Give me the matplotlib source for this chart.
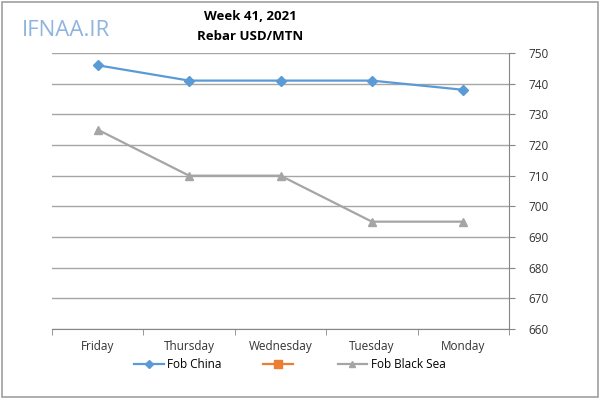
import matplotlib
matplotlib.use("Agg")
import matplotlib.pyplot as plt
from matplotlib.patches import Rectangle
from matplotlib.lines import Line2D

plt.rcParams['font.family'] = ['Open Sans', 'DejaVu Sans']

categories = ["Friday", "Thursday", "Wednesday", "Tuesday", "Monday"]
fob_china = [746, 741, 741, 741, 738]
fob_black_sea = [725, 710, 710, 695, 695]
yticks = [660, 670, 680, 690, 700, 710, 720, 730, 740, 750]

fig = plt.figure(figsize=(6.0, 3.99), dpi=100)
ax = fig.add_axes([52/600, 1-329/399, (509-52)/600, (329-53)/399])

x = list(range(len(categories)))
ax.plot(x, fob_china, color='#5B9BD5', lw=1.6, marker='D', ms=5, zorder=3)
ax.plot(x, fob_black_sea, color='#A5A5A5', lw=1.6, marker='^', ms=6, zorder=3)

ax.set_xlim(-0.5, len(categories) - 0.5)
ax.set_ylim(660, 750)
ax.set_yticks(yticks)
ax.yaxis.tick_right()
ax.tick_params(axis='y', which='both', direction='out', length=4, color='#868686',
               labelsize=8.5, pad=10, labelcolor='#333333')
ax.set_xticks(x)
ax.set_xticklabels(categories)
ax.tick_params(axis='x', which='major', length=0, labelsize=8.5, pad=8, labelcolor='#333333')
ax.set_xticks([i - 0.5 for i in range(len(categories) + 1)], minor=True)
ax.tick_params(axis='x', which='minor', direction='out', length=4, color='#868686')
ax.grid(axis='y', color='#A6A6A6', lw=1)
for s in ['top', 'left']:
    ax.spines[s].set_visible(False)
ax.spines['right'].set_color('#868686')
ax.spines['bottom'].set_color('#868686')

fig.text(250/600, 1-17/399, "Week 41, 2021", ha='center', va='center', fontsize=9.5, fontweight='bold')
fig.text(250/600, 1-36/399, "Rebar USD/MTN", ha='center', va='center', fontsize=9.5, fontweight='bold')
fig.text(66/600, 1-31/399, "IFNAA.IR", ha='center', va='center', fontsize=16, color='#8FB4E0')

handles = [
    Line2D([], [], color='#5B9BD5', lw=1.6, marker='D', ms=4),
    Line2D([], [], color='#ED7D31', lw=1.6, marker='s', ms=6),
    Line2D([], [], color='#A5A5A5', lw=1.6, marker='^', ms=5),
]
fig.legend(handles, ["Fob China", "", "Fob Black Sea"], loc='center', bbox_to_anchor=(290/600, 1-365/399),
           ncol=3, frameon=False, fontsize=8.5, handlelength=2.5, columnspacing=3.5, handletextpad=0.3)

fig.patches.append(Rectangle((0.003, 0.004), 0.994, 0.992, transform=fig.transFigure,
                             fill=False, edgecolor='#A0A0A0', lw=1.2))

fig.savefig("out.png", dpi=100)
